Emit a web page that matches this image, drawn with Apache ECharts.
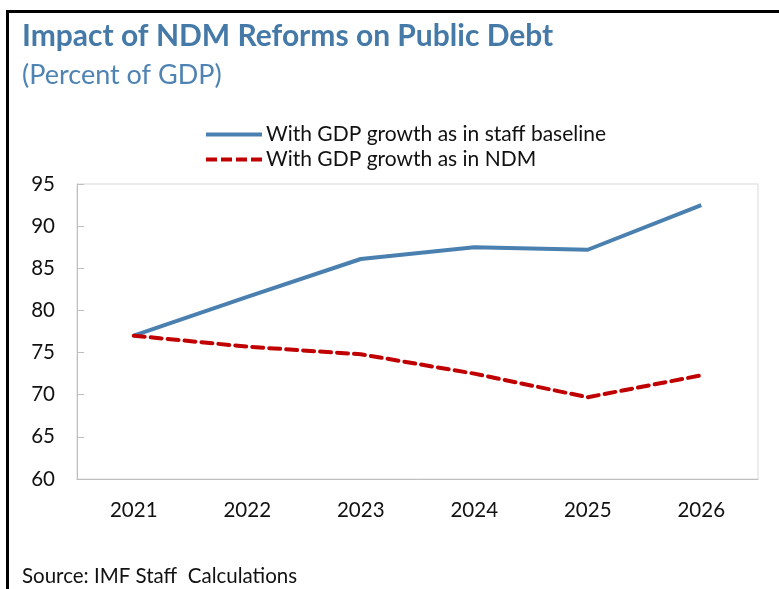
<!DOCTYPE html>
<html>
<head>
<meta charset="utf-8">
<script src="https://cdn.jsdelivr.net/npm/echarts@6/dist/echarts.min.js"></script>
<style>
html,body{margin:0;padding:0;background:#fff;}
#chart{width:779px;height:589px;}
</style>
</head>
<body>
<div id="chart"></div>
<script>
const years = ['2021','2022','2023','2024','2025','2026'];
const baseline = [77.0, 81.6, 86.1, 87.5, 87.2, 92.5];
const ndm = [77.0, 75.7, 74.8, 72.5, 69.7, 72.3];
const seriesNames = ['With GDP growth as in staff baseline', 'With GDP growth as in NDM'];
const titleText = 'Impact of NDM Reforms on Public Debt';
const subtitleText = '(Percent of GDP)';
const sourceText = 'Source: IMF Staff  Calculations';

const FONT = 'Lato, "Open Sans", sans-serif';
const BLUE = '#4a80b0';
const RED = '#c00000';
const solidIcon = 'path://M0,0h56v4h-56z';
const dashIcon = 'path://M0,0h11v4h-11zM15,0h11v4h-11zM30,0h11v4h-11zM45,0h11v4h-11z';

const chart = echarts.init(document.getElementById('chart'));
chart.setOption({
  animation: false,
  backgroundColor: '#ffffff',
  textStyle: {fontFamily: FONT},
  title: [
    {text: titleText, left: 17, top: 16, textStyle: {fontFamily: FONT, fontSize: 30, fontWeight: 'bold', color: '#4479a8'}},
    {text: subtitleText, left: 17, top: 57, textStyle: {fontFamily: FONT, fontSize: 27, fontWeight: 'normal', color: '#4f83b3'}},
    {text: sourceText, left: 17, top: 561, textStyle: {fontFamily: FONT, fontSize: 20.5, fontWeight: 'normal', color: '#111'}}
  ],
  graphic: [
    {type: 'rect', shape: {x: 7.5, y: 11.5, width: 800, height: 600}, style: {fill: 'none', stroke: '#000', lineWidth: 3}, z: 100}
  ],
  legend: {
    orient: 'vertical',
    left: 206,
    top: 124,
    padding: 0,
    itemWidth: 56,
    itemHeight: 4,
    itemGap: 4,
    textStyle: {fontFamily: FONT, fontSize: 21, color: '#111', padding: [0,0,0,-1]},
    data: [
      {name: seriesNames[0], icon: solidIcon, itemStyle: {color: BLUE}},
      {name: seriesNames[1], icon: dashIcon, itemStyle: {color: RED}}
    ]
  },
  grid: {left: 77, right: 21, top: 184, bottom: 110, show: true, borderColor: '#d9d9d9', borderWidth: 1},
  xAxis: {
    type: 'category',
    data: years,
    boundaryGap: true,
    axisLine: {lineStyle: {color: '#bfbfbf', width: 1}},
    axisTick: {inside: true, length: 7, lineStyle: {color: '#bfbfbf'}},
    axisLabel: {fontFamily: FONT, fontSize: 20.5, color: '#111', margin: 21}
  },
  yAxis: {
    type: 'value',
    min: 60, max: 95, interval: 5,
    splitLine: {show: false},
    axisLine: {show: true, lineStyle: {color: '#bfbfbf', width: 1}},
    axisTick: {show: true, inside: true, length: 7, lineStyle: {color: '#bfbfbf'}},
    axisLabel: {fontFamily: FONT, fontSize: 20.5, color: '#111', margin: 22}
  },
  series: [
    {name: seriesNames[0], type: 'line', data: baseline, symbol: 'none', lineStyle: {color: BLUE, width: 4}, itemStyle: {color: BLUE}},
    {name: seriesNames[1], type: 'line', data: ndm, symbol: 'none', lineStyle: {color: RED, width: 4, type: [11, 6], cap: 'round'}, itemStyle: {color: RED}}
  ]
});
</script>
</body>
</html>
